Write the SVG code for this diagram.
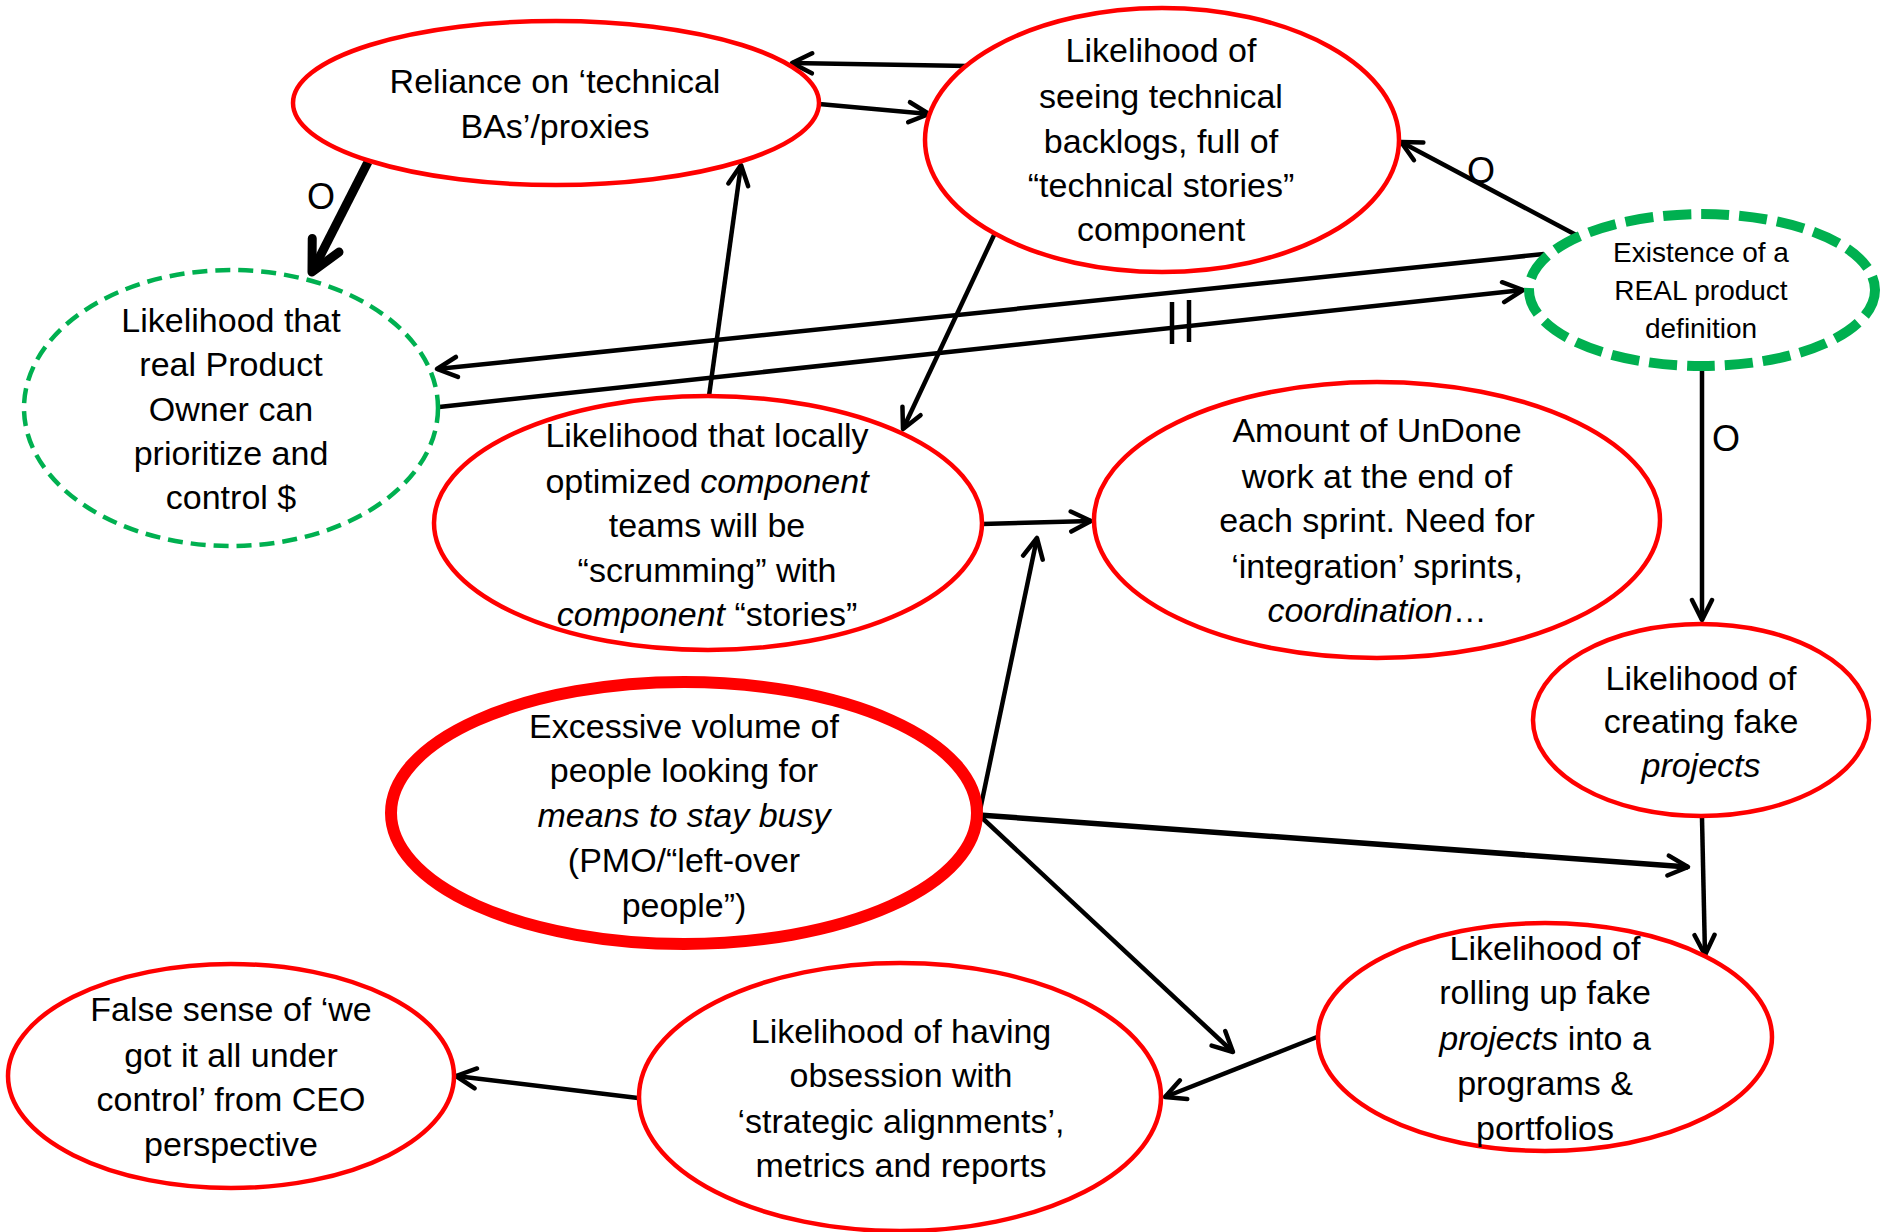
<svg xmlns="http://www.w3.org/2000/svg" width="1884" height="1232" viewBox="0 0 1884 1232">
<style>
.n{fill:#fff;stroke:#ff0000;stroke-width:4.5}
.nt{fill:#fff;stroke:#ff0000;stroke-width:12}
.g1{fill:#fff;stroke:#00b050;stroke-width:4.5;stroke-dasharray:15 8}
.g2{fill:#fff;stroke:#00b050;stroke-width:10;stroke-dasharray:28 10}
text{font-family:"Liberation Sans",Arial,sans-serif;font-size:34px;fill:#000;text-anchor:middle}
.s{font-size:28px}
.c{stroke:#000;stroke-width:4.5;fill:none}
.lbl{font-size:36px}
</style>
<defs>
<marker id="ah" markerUnits="userSpaceOnUse" viewBox="0 0 26 26" refX="23" refY="13" markerWidth="26" markerHeight="26" orient="auto">
<path d="M3,3 L23,13 L3,23" fill="none" stroke="#000" stroke-width="4.5" stroke-linecap="round" stroke-linejoin="round"/>
</marker>
<marker id="ahb" markerUnits="userSpaceOnUse" viewBox="0 0 40 40" refX="35" refY="20" markerWidth="40" markerHeight="40" orient="auto">
<path d="M5,5 L35,20 L5,35" fill="none" stroke="#000" stroke-width="9" stroke-linecap="round" stroke-linejoin="round"/>
</marker>
</defs>

<g id="connectors">
<line class="c" x1="968" y1="66" x2="792" y2="63" marker-end="url(#ah)"/>
<line class="c" x1="819" y1="104" x2="929" y2="114" marker-end="url(#ah)"/>
<line x1="368" y1="162" x2="312" y2="272" stroke="#000" stroke-width="9" marker-end="url(#ahb)"/>
<line class="c" x1="709" y1="396" x2="741" y2="165" marker-end="url(#ah)"/>
<line class="c" x1="995" y1="233" x2="903" y2="429" marker-end="url(#ah)"/>
<line class="c" x1="1544" y1="254" x2="437" y2="369" marker-end="url(#ah)"/>
<line class="c" x1="439" y1="407" x2="1523" y2="290" marker-end="url(#ah)"/>
<line class="c" x1="1172" y1="302" x2="1172" y2="344"/>
<line class="c" x1="1189" y1="300" x2="1189" y2="342"/>
<line class="c" x1="1578" y1="236" x2="1401" y2="142" marker-end="url(#ah)"/>
<line class="c" x1="1702" y1="366" x2="1702" y2="620" marker-end="url(#ah)"/>
<line class="c" x1="982" y1="524" x2="1091" y2="521" marker-end="url(#ah)"/>
<line class="c" x1="979" y1="815" x2="1037" y2="538" marker-end="url(#ah)"/>
<line x1="979" y1="815" x2="1688" y2="867" stroke="#000" stroke-width="5.5" marker-end="url(#ah)"/>
<line class="c" x1="979" y1="815" x2="1233" y2="1052" marker-end="url(#ah)"/>
<line class="c" x1="1702" y1="818" x2="1705" y2="955" marker-end="url(#ah)"/>
<line class="c" x1="1317" y1="1037" x2="1165" y2="1097" marker-end="url(#ah)"/>
<line class="c" x1="638" y1="1098" x2="456" y2="1076" marker-end="url(#ah)"/>
<text class="lbl" x="321" y="209">O</text>
<text class="lbl" x="1481" y="183">O</text>
<text class="lbl" x="1726" y="451">O</text>
</g>

<g id="reliance">
<ellipse class="n" cx="556" cy="103" rx="263" ry="82"/>
<text x="555" y="93">Reliance on ‘technical</text>
<text x="555" y="138">BAs’/proxies</text>
</g>

<g id="backlogs">
<ellipse class="n" cx="1162" cy="140" rx="237" ry="132"/>
<text x="1161" y="62">Likelihood of</text>
<text x="1161" y="108">seeing technical</text>
<text x="1161" y="153">backlogs, full of</text>
<text x="1161" y="197">“technical stories”</text>
<text x="1161" y="241">component</text>
</g>

<g id="existence">
<ellipse class="g2" cx="1702" cy="290" rx="173" ry="76"/>
<text class="s" x="1701" y="262">Existence of a</text>
<text class="s" x="1701" y="300">REAL product</text>
<text class="s" x="1701" y="338">definition</text>
</g>

<g id="product-owner">
<ellipse class="g1" cx="231" cy="408" rx="207" ry="138"/>
<text x="231" y="332">Likelihood that</text>
<text x="231" y="376">real Product</text>
<text x="231" y="421">Owner can</text>
<text x="231" y="465">prioritize and</text>
<text x="231" y="509">control $</text>
</g>

<g id="component-teams">
<ellipse class="n" cx="708" cy="523" rx="274" ry="127"/>
<text x="707" y="447">Likelihood that locally</text>
<text x="707" y="493">optimized <tspan font-style="italic">component</tspan></text>
<text x="707" y="537">teams will be</text>
<text x="707" y="582">“scrumming” with</text>
<text x="707" y="626"><tspan font-style="italic">component</tspan> “stories”</text>
</g>

<g id="undone">
<ellipse class="n" cx="1377" cy="520" rx="283" ry="138"/>
<text x="1377" y="442">Amount of UnDone</text>
<text x="1377" y="488">work at the end of</text>
<text x="1377" y="532">each sprint. Need for</text>
<text x="1377" y="578">‘integration’ sprints,</text>
<text x="1377" y="622"><tspan font-style="italic">coordination</tspan>…</text>
</g>

<g id="fake-projects">
<ellipse class="n" cx="1701" cy="720" rx="168" ry="96"/>
<text x="1701" y="690">Likelihood of</text>
<text x="1701" y="733">creating fake</text>
<text x="1701" y="777" font-style="italic">projects</text>
</g>

<g id="excessive">
<ellipse class="nt" cx="684" cy="813" rx="293" ry="131"/>
<text x="684" y="738">Excessive volume of</text>
<text x="684" y="782">people looking for</text>
<text x="684" y="827" font-style="italic">means to stay busy</text>
<text x="684" y="872">(PMO/“left-over</text>
<text x="684" y="917">people”)</text>
</g>

<g id="rolling-up">
<ellipse class="n" cx="1545" cy="1037" rx="227" ry="114"/>
<text x="1545" y="960">Likelihood of</text>
<text x="1545" y="1004">rolling up fake</text>
<text x="1545" y="1050"><tspan font-style="italic">projects</tspan> into a</text>
<text x="1545" y="1095">programs &amp;</text>
<text x="1545" y="1140">portfolios</text>
</g>

<g id="obsession">
<ellipse class="n" cx="900" cy="1097" rx="261" ry="134"/>
<text x="901" y="1043">Likelihood of having</text>
<text x="901" y="1087">obsession with</text>
<text x="901" y="1133">‘strategic alignments’,</text>
<text x="901" y="1177">metrics and reports</text>
</g>

<g id="false-sense">
<ellipse class="n" cx="231" cy="1076" rx="223" ry="112"/>
<text x="231" y="1021">False sense of ‘we</text>
<text x="231" y="1067">got it all under</text>
<text x="231" y="1111">control’ from CEO</text>
<text x="231" y="1156">perspective</text>
</g>
</svg>
